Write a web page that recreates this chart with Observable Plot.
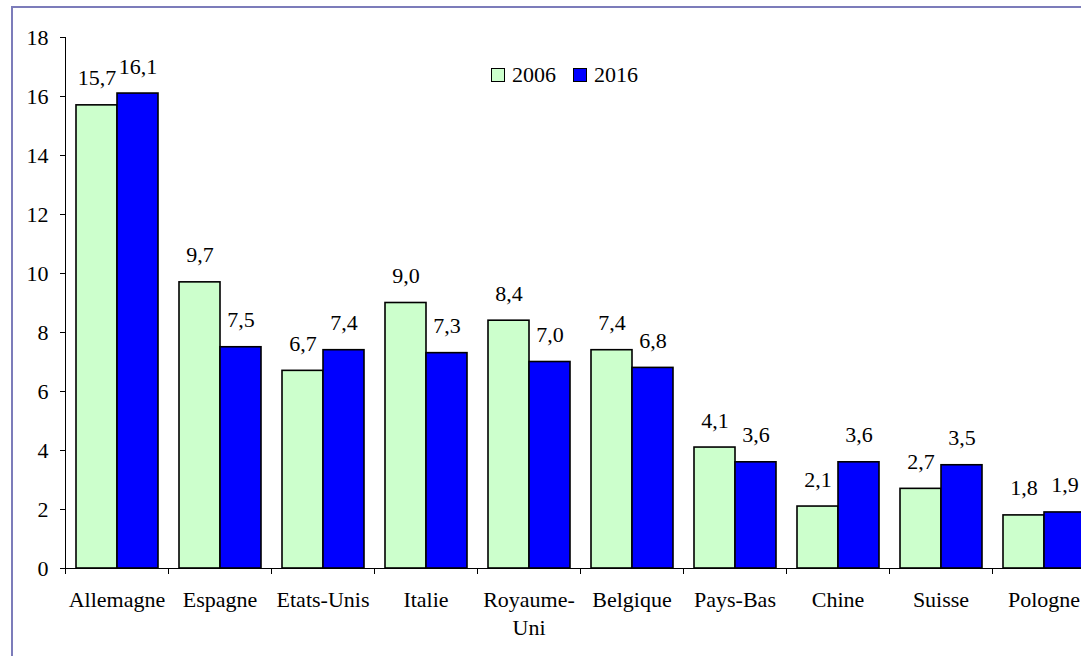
<!DOCTYPE html>
<html>
<head>
<meta charset="utf-8">
<script src="https://cdn.jsdelivr.net/npm/d3@7"></script>
<script src="https://cdn.jsdelivr.net/npm/@observablehq/plot@0.6"></script>
<style>
  html, body { margin: 0; padding: 0; background: #fff; overflow: hidden; width: 1081px; height: 656px; }
  #wrap { position: relative; width: 1081px; height: 656px; overflow: hidden; }
  #border { position: absolute; left: 11px; top: 6px; width: 1200px; height: 700px; border: 2px solid #7c7cba; box-sizing: border-box; pointer-events: none; z-index: 2; }
  #chart { position: absolute; left: 0; top: 0; }
  .leg { position: absolute; top: 64px; font-family: 'Liberation Serif'; font-size: 22px; line-height: 1; display: flex; align-items: center; z-index: 3; color: #000; }
  .sw { display: inline-block; width: 12px; height: 12px; border: 1.5px solid #000; margin-right: 7px; }
</style>
</head>
<body>
<div id="wrap">
  <div id="chart"></div>
  <div id="border"></div>
</div>
<script>
// ---- data ----
const countries = ["Allemagne", "Espagne", "Etats-Unis", "Italie", "Royaume-Uni", "Belgique", "Pays-Bas", "Chine", "Suisse", "Pologne"];
const countryLabels = ["Allemagne", "Espagne", "Etats-Unis", "Italie", "Royaume-\nUni", "Belgique", "Pays-Bas", "Chine", "Suisse", "Pologne"];
const years = ["2006", "2016"];
const values2006 = [15.7, 9.7, 6.7, 9.0, 8.4, 7.4, 4.1, 2.1, 2.7, 1.8];
const values2016 = [16.1, 7.5, 7.4, 7.3, 7.0, 6.8, 3.6, 3.6, 3.5, 1.9];
const yTicks = [0, 2, 4, 6, 8, 10, 12, 14, 16, 18];
const colors = ["#ccffcc", "#0000ff"];

// ---- table ----
const rows = countries.flatMap((c, i) => [
  {country: c, year: years[0], value: values2006[i]},
  {country: c, year: years[1], value: values2016[i]}
]);
const labelOf = new Map(countries.map((c, i) => [c, countryLabels[i]]));
const fmt = v => d3.format(".1f")(v).replace(".", ",");

// ---- layout ----
const W = 1100, H = 656;
const mL = 65, mR = 5, mT = 37, mB = 88;
const step = (W - mL - mR) / countries.length;
const font = "Liberation Serif";
const fs = 22;

const chart = Plot.plot({
  width: W,
  height: H,
  marginLeft: mL,
  marginRight: mR,
  marginTop: mT,
  marginBottom: mB,
  style: {maxWidth: "none", background: "transparent", overflow: "visible", fontFamily: font, fontSize: fs + "px", color: "#000"},
  fx: {domain: countries, paddingInner: 0, paddingOuter: 0, label: null},
  x: {domain: years, paddingInner: 0, paddingOuter: 0.25, axis: null},
  y: {domain: [0, 18], label: null},
  color: {domain: years, range: colors},
  marks: [
    Plot.barY(rows, {fx: "country", x: "year", y: "value", fill: "year", stroke: "#000", strokeWidth: 1.6}),
    Plot.ruleY([0], {stroke: "#000", strokeWidth: 1}),
    Plot.text(rows, {fx: "country", x: "year", y: "value", text: d => fmt(d.value), lineAnchor: "bottom", dy: -20, fontSize: fs, fontFamily: font, fill: "#000"}),
    Plot.axisY(yTicks, {anchor: "left", tickSize: 5, tickPadding: 12, fontSize: fs, fontFamily: font, tickFormat: d => String(d), label: null, stroke: "#000", fill: "#000"}),
    Plot.frame({anchor: "left", facetAnchor: "left", stroke: "#000", strokeWidth: 1}),
    Plot.axisFx({anchor: "bottom", tickSize: 6, tickFormat: () => "", dx: -step / 2, label: null, stroke: "#000"}),
    Plot.axisFx({anchor: "bottom", tickSize: 0, tickPadding: 18, fontSize: fs, fontFamily: font, lineHeight: 1.28, tickFormat: d => labelOf.get(d), label: null, fill: "#000"})
  ]
});
document.getElementById("chart").appendChild(chart);

// ---- legend ----
const wrap = document.getElementById("wrap");
const legX = [491, 573];
years.forEach((y, i) => {
  const el = document.createElement("div");
  el.className = "leg";
  el.style.left = legX[i] + "px";
  el.innerHTML = `<span class="sw" style="background:${colors[i]}"></span><span style="font-family:'Liberation Serif'">${y}</span>`;
  wrap.appendChild(el);
});
</script>
</body>
</html>
